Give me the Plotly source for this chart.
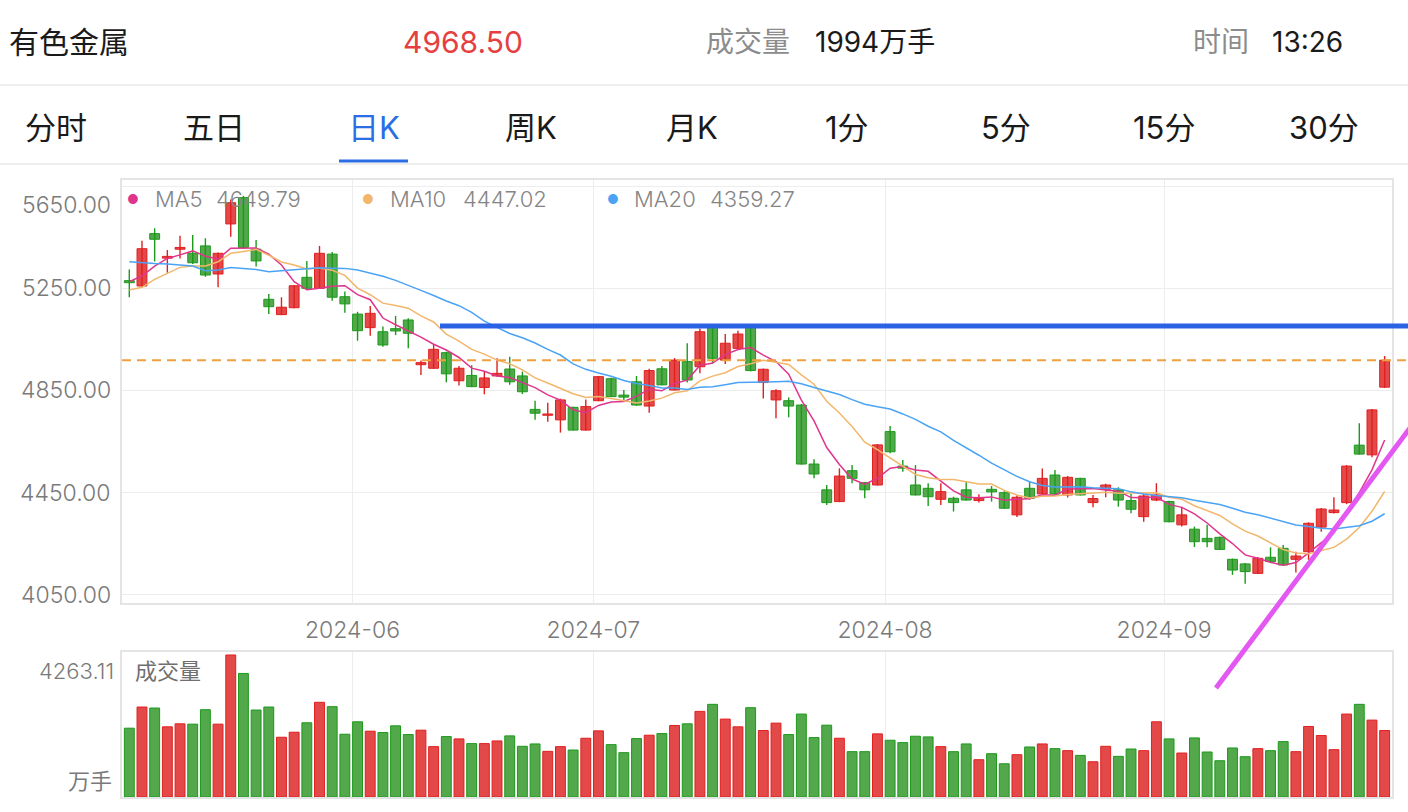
import plotly.graph_objects as go

W, H = 1408, 812

# ---------------- data ----------------
opens = [5280, 5259, 5464, 5368, 5403, 5387, 5416, 5306, 5502, 5605,
         5403, 5207, 5147, 5174, 5293, 5250, 5384, 5217, 5149, 5096,
         5080, 5092, 5126, 4951, 4937, 4998, 4888, 4909, 4862, 4907,
         4934, 4907, 4776, 4753, 4735, 4784, 4695, 4810, 4896, 4832,
         4884, 4789, 4935, 4852, 4963, 4943, 5102, 4969, 5015, 5100,
         4881, 4813, 4810, 4793, 4562, 4461, 4415, 4536, 4489, 4480,
         4689, 4554, 4480, 4467, 4424, 4428, 4461, 4419, 4463, 4450,
         4363, 4467, 4445, 4519, 4441, 4506, 4411, 4463, 4461, 4419,
         4356, 4421, 4415, 4324, 4307, 4271, 4275, 4189, 4171, 4134,
         4197, 4232, 4189, 4219, 4315, 4372, 4411, 4636, 4598, 4863]
highs = [5324, 5436, 5485, 5400, 5456, 5459, 5446, 5390, 5598, 5612,
         5439, 5228, 5215, 5262, 5357, 5416, 5392, 5237, 5158, 5181,
         5100, 5142, 5133, 4967, 5028, 5002, 4946, 4949, 4924, 4976,
         4982, 4924, 4810, 4802, 4818, 4786, 4815, 4907, 4900, 4852,
         4907, 4935, 4946, 4977, 5035, 5093, 5110, 5071, 5084, 5105,
         4936, 4855, 4823, 4797, 4581, 4480, 4545, 4558, 4492, 4640,
         4711, 4578, 4558, 4487, 4487, 4434, 4493, 4444, 4476, 4455,
         4440, 4493, 4545, 4539, 4515, 4508, 4441, 4485, 4471, 4445,
         4445, 4487, 4418, 4395, 4317, 4324, 4278, 4192, 4175, 4198,
         4236, 4245, 4219, 4334, 4390, 4432, 4558, 4722, 4777, 4985]
lows = [5215, 5252, 5355, 5311, 5367, 5345, 5295, 5254, 5452, 5405,
        5335, 5149, 5145, 5172, 5246, 5248, 5201, 5154, 5045, 5064,
        5021, 5067, 5015, 4911, 4935, 4882, 4869, 4863, 4835, 4905,
        4872, 4836, 4735, 4728, 4685, 4693, 4693, 4808, 4824, 4806,
        4790, 4763, 4870, 4850, 4881, 4917, 4956, 4954, 5013, 4925,
        4819, 4741, 4745, 4560, 4506, 4402, 4413, 4487, 4428, 4478,
        4604, 4532, 4439, 4398, 4402, 4376, 4419, 4411, 4415, 4387,
        4355, 4422, 4443, 4443, 4431, 4439, 4393, 4432, 4395, 4369,
        4336, 4417, 4334, 4317, 4237, 4236, 4226, 4128, 4093, 4132,
        4174, 4165, 4137, 4187, 4297, 4368, 4405, 4599, 4589, 4860]
closes = [5272, 5405, 5442, 5375, 5410, 5350, 5302, 5387, 5585, 5410,
          5357, 5178, 5176, 5260, 5250, 5387, 5215, 5189, 5084, 5152,
          5028, 5083, 5074, 4959, 5011, 4915, 4937, 4865, 4899, 4917,
          4884, 4845, 4761, 4758, 4813, 4695, 4787, 4904, 4826, 4824,
          4793, 4928, 4872, 4969, 4891, 5080, 4976, 5035, 5071, 4928,
          4933, 4849, 4789, 4562, 4523, 4411, 4515, 4506, 4461, 4637,
          4610, 4546, 4441, 4434, 4454, 4411, 4421, 4428, 4453, 4389,
          4432, 4428, 4506, 4445, 4510, 4441, 4427, 4480, 4421, 4385,
          4437, 4441, 4336, 4363, 4258, 4258, 4228, 4147, 4141, 4193,
          4180, 4167, 4202, 4330, 4386, 4382, 4554, 4601, 4774, 4968.5]
volumes = [2066, 2701, 2671, 2107, 2197, 2187, 2621, 2187, 4263.11, 3709,
           2611, 2701, 1794, 1945, 2228, 2843, 2712, 1885, 2258, 1976,
           1935, 2137, 1875, 2006, 1512, 1814, 1744, 1603, 1603, 1683,
           1835, 1522, 1593, 1371, 1512, 1411, 1764, 1986, 1572, 1331,
           1754, 1855, 1905, 2147, 2197, 2570, 2782, 2339, 2107, 2681,
           1996, 2218, 1875, 2490, 1784, 2157, 1764, 1361, 1361, 1895,
           1704, 1633, 1824, 1804, 1512, 1361, 1593, 1119, 1300, 998,
           1270, 1502, 1593, 1452, 1391, 1250, 1058, 1522, 1220, 1441,
           1391, 2258, 1744, 1320, 1774, 1351, 1089, 1472, 1210, 1452,
           1391, 1663, 1361, 2117, 1845, 1421, 2490, 2782, 2308, 1996]

# moving-average values before the window is full
ma5_head = [5276, 5298, 5337, 5367]
ma10_head = [5243, 5254, 5285, 5309, 5332, 5337, 5337, 5354, 5387]
ma20_head = [5354, 5350, 5347, 5345, 5341, 5337, 5319, 5322, 5331, 5328,
             5324, 5315, 5318, 5322, 5326, 5330, 5329, 5328, 5322]

month_labels = ["2024-06", "2024-07", "2024-08", "2024-09"]
month_start_idx = [18, 37, 60, 82]
price_ticks = [4050, 4450, 4850, 5250, 5650]
price_tick_text = ["4050.00", "4450.00", "4850.00", "5250.00", "5650.00"]
vol_max_label = "4263.11"
last_price = 4968.50
resistance_price = 5102

ma_names = ["MA5", "MA10", "MA20"]
ma_values_text = ["4649.79", "4447.02", "4359.27"]

header_name = "有色金属"
header_price = "4968.50"
header_vol_label, header_vol = "成交量", "1994万手"
header_time_label, header_time = "时间", "13:26"
tabs = ["分时", "五日", "日K", "周K", "月K", "1分", "5分", "15分", "30分"]
active_tab = "日K"

# ---------------- styling ----------------
RED_FILL, RED_LINE = "#E4494A", "#E01F1F"
GREEN_FILL, GREEN_LINE = "#52A84B", "#1C9A1C"
MA_COLORS = ["#E0358C", "#F2B66C", "#4AA3F5"]
GRID = "#EDEDED"
FRAME = "#E4E4E4"
AX_TXT = "#7A7A7A"
LATIN = "Inter, 'Liberation Sans', 'Noto Sans CJK SC', sans-serif"


def px(x):
    return x / W


def py(y):
    return 1 - y / H


def moving_avg(vals, n, head):
    out = list(head)
    for i in range(len(head), len(vals)):
        out.append(sum(vals[i - n + 1:i + 1]) / n)
    return out


n = len(closes)
idx = list(range(n))
up = [c >= o for o, c in zip(opens, closes)]

fig = go.Figure()

# volume bars
fig.add_trace(go.Bar(
    x=idx, y=volumes, width=0.78, xaxis="x2", yaxis="y2",
    marker=dict(color=[RED_FILL if u else GREEN_FILL for u in up],
                line=dict(color=[RED_LINE if u else GREEN_LINE for u in up], width=1)),
    hoverinfo="skip"))

# candle bodies
body_base = [min(o, c) for o, c in zip(opens, closes)]
body_h = [max(abs(c - o), 4) for o, c in zip(opens, closes)]
fig.add_trace(go.Bar(
    x=idx, y=body_h, base=body_base, width=0.78, xaxis="x", yaxis="y",
    marker=dict(color=[RED_FILL if u else GREEN_FILL for u in up],
                line=dict(color=[RED_LINE if u else GREEN_LINE for u in up], width=1)),
    hoverinfo="skip"))

# wicks
for flag, col in ((True, RED_LINE), (False, GREEN_LINE)):
    wx, wy = [], []
    for i in idx:
        if up[i] == flag:
            wx += [i, i, None]
            wy += [lows[i], highs[i], None]
    fig.add_trace(go.Scatter(x=wx, y=wy, mode="lines", xaxis="x", yaxis="y",
                             line=dict(color=col, width=1.4), hoverinfo="skip"))

# moving averages
for name, per, head, col in zip(ma_names, (5, 10, 20), (ma5_head, ma10_head, ma20_head), MA_COLORS):
    fig.add_trace(go.Scatter(x=idx, y=moving_avg(closes, per, head), mode="lines",
                             line=dict(color=col, width=1.5), name=name,
                             xaxis="x", yaxis="y", hoverinfo="skip"))

tickpos = [s - 0.4 for s in month_start_idx]
x_dom = [px(122), px(1392)]
fig.update_layout(
    width=W, height=H, margin=dict(l=0, r=0, t=0, b=0),
    paper_bgcolor="white", plot_bgcolor="white", showlegend=False,
    barmode="overlay", hovermode=False,
    font=dict(family=LATIN, color=AX_TXT),
    xaxis=dict(domain=x_dom, range=[-0.576, 99.58], anchor="y",
               tickvals=tickpos, ticktext=month_labels, ticks="",
               tickfont=dict(size=23, color=AX_TXT, weight=300), ticklabelstandoff=6,
               showgrid=True, gridcolor=GRID, gridwidth=1, zeroline=False,
               showline=True, mirror=True, linecolor=FRAME, linewidth=1.5),
    yaxis=dict(domain=[py(603), py(180)], range=[4018, 5674], anchor="x",
               tickvals=price_ticks, showticklabels=False, ticks="",
               showgrid=True, gridcolor=GRID, gridwidth=1, zeroline=False,
               showline=True, mirror=True, linecolor=FRAME, linewidth=1.5),
    xaxis2=dict(domain=x_dom, range=[-0.576, 99.58], anchor="y2", matches="x",
                tickvals=tickpos, showticklabels=False, ticks="",
                showgrid=True, gridcolor=GRID, zeroline=False,
                showline=True, mirror=True, linecolor=FRAME, linewidth=1.5),
    yaxis2=dict(domain=[py(797), py(652)], range=[0, 4353], anchor="x2",
                showticklabels=False, showgrid=False, zeroline=False, ticks="",
                showline=True, mirror=True, linecolor=FRAME, linewidth=1.5),
)

shapes = [
    dict(type="line", xref="paper", yref="paper", x0=0, x1=1, y0=py(85), y1=py(85),
         line=dict(color="#EEEEEE", width=2)),
    dict(type="line", xref="paper", yref="paper", x0=0, x1=1, y0=py(164), y1=py(164),
         line=dict(color="#EEEEEE", width=2)),
    dict(type="line", xref="paper", yref="paper", x0=px(339), x1=px(408), y0=py(161), y1=py(161),
         line=dict(color="#2B6DE5", width=3)),
    dict(type="line", xref="paper", yref="y", x0=px(122), x1=1, y0=last_price, y1=last_price,
         line=dict(color="#F0A040", width=2, dash="9px,6px"), layer="above"),
    dict(type="line", xref="paper", yref="y", x0=px(440), x1=1, y0=resistance_price, y1=resistance_price,
         line=dict(color="#2A62E6", width=5), layer="above"),
    dict(type="line", xref="paper", yref="paper", x0=px(1216), y0=py(688), x1=px(1410), y1=py(428),
         line=dict(color="#E458F2", width=5), layer="above"),
]
fig.update_layout(shapes=shapes)

ann = []


def text(x, y, s, size, color, xanchor="left", yanchor="middle", xref="paper", yref="paper",
         yshift=0, weight=400):
    ann.append(dict(x=x, y=y, xref=xref, yref=yref, text=s, showarrow=False,
                    xanchor=xanchor, yanchor=yanchor, yshift=yshift,
                    font=dict(size=size, color=color, family=LATIN, weight=weight)))


# header
text(px(7), py(42), header_name, 30, "#1A1A1A")
text(px(401), py(42), header_price, 30, "#E5403F")
text(px(704), py(42), header_vol_label, 28, "#8C8C8C")
text(px(813), py(42), header_vol, 28, "#1A1A1A")
text(px(1191), py(42), header_time_label, 28, "#8C8C8C")
text(px(1270), py(42), header_time, 28, "#1A1A1A")

tab_centers = [56, 214, 374, 531, 692, 847, 1006, 1164, 1324]
for t, cx in zip(tabs, tab_centers):
    text(px(cx), py(127), t, 31, "#2B6DE5" if t == active_tab else "#1A1A1A", xanchor="center")

# MA legend
leg_dot_x = [133, 368, 613]
leg_name_x = [153, 388, 632]
leg_val_x = [214, 461, 708]
for nm, v, c, dx, nx, vx in zip(ma_names, ma_values_text, MA_COLORS, leg_dot_x, leg_name_x, leg_val_x):
    text(px(dx), py(199), "●", 13, c, xanchor="center")
    text(px(nx), py(199), nm, 22, "#858585", weight=300)
    text(px(vx), py(199), v, 22, "#858585", weight=300)

# price axis labels
for v, s in zip(price_ticks, price_tick_text):
    if v == max(price_ticks):
        text(px(113), v, s, 23, AX_TXT, xanchor="right", yanchor="top", yref="y", yshift=-3, weight=300)
    else:
        text(px(113), v, s, 23, AX_TXT, xanchor="right", yref="y", weight=300)

# volume axis labels
text(px(116), max(volumes), vol_max_label, 22, AX_TXT, xanchor="right", yanchor="top", yref="y2",
     yshift=-1, weight=300)
text(px(114), 0, "万手", 22, AX_TXT, xanchor="right", yanchor="bottom", yref="y2", yshift=1)
text(px(133), py(671), "成交量", 22, "#6F6F6F")

fig.update_layout(annotations=ann)

fig.write_html("out.html", config={"displayModeBar": False})
